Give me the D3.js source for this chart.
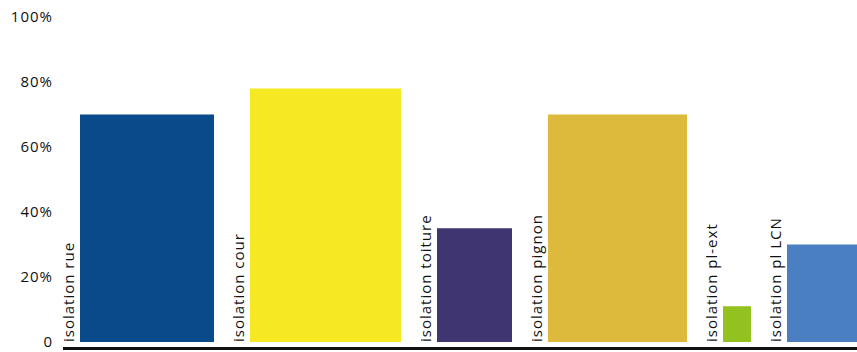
<!DOCTYPE html>
<html>
<head>
<meta charset="utf-8">
<script src="https://cdn.jsdelivr.net/npm/d3@7/dist/d3.min.js"></script>
<style>
  html, body { margin: 0; padding: 0; background: #fff; }
  svg { display: block; }
  text { font-family: "Open Sans", "Lato", sans-serif; fill: #111; }
</style>
</head>
<body>
<svg id="chart" width="857" height="352"></svg>
<script>
// Share of each insulation measure (%), with relative bar widths
const categories = ["isolation rue", "isolation cour", "isolation toiture",
                    "isolation pignon", "isolation pl-ext", "isolation pl LCN"];
const values  = [70, 78, 35, 70, 11, 30];
const weights = [134, 151, 75, 139, 28, 71];
const colors  = ["#094a8b", "#f6e823", "#3e3571", "#ddba3b", "#92c120", "#4a7fc1"];
const yTicks  = [0, 20, 40, 60, 80, 100];

const W = 857, H = 352;
const svg = d3.select("#chart");

// vertical scale
const y = d3.scaleLinear().domain([0, 100]).range([342, 17]);

// variable-width horizontal layout: bars laid side by side with a fixed gap
const gap = 36;
const starts = [];
let acc = 0;
weights.forEach((w, i) => { starts.push(acc); acc += w + gap; });
const total = acc - gap;
const x = d3.scaleLinear().domain([0, total]).range([80, 80 + total]);

const data = categories.map((c, i) => ({
  name: c, value: values[i], x0: starts[i], x1: starts[i] + weights[i], color: colors[i]
}));

// y axis labels (no ticks, no domain line)
const yAxis = d3.axisLeft(y)
  .tickValues(yTicks)
  .tickSize(0)
  .tickPadding(0)
  .tickFormat(d => d === 0 ? "0" : d + "%");
const gy = svg.append("g").attr("transform", "translate(53,0)").call(yAxis);
gy.select(".domain").remove();
gy.selectAll("text")
  .attr("font-family", "Open Sans, Lato, sans-serif")
  .attr("font-size", 15)
  .attr("letter-spacing", 1)
  .attr("fill", "#111");

// bars
svg.append("g").selectAll("rect")
  .data(data)
  .join("rect")
  .attr("x", d => x(d.x0))
  .attr("width", d => x(d.x1) - x(d.x0))
  .attr("y", d => y(d.value))
  .attr("height", d => y(0) - y(d.value))
  .attr("fill", d => d.color);

// rotated category labels set just left of each bar
svg.append("g").selectAll("text")
  .data(data)
  .join("text")
  .attr("transform", d => `translate(${x(d.x0) - 6},${y(0)}) rotate(-90)`)
  .attr("font-size", 15)
  .attr("letter-spacing", 1)
  .text(d => d.name);

// baseline
svg.append("line")
  .attr("x1", 63).attr("x2", W)
  .attr("y1", 348.5).attr("y2", 348.5)
  .attr("stroke", "#111")
  .attr("stroke-width", 3);
</script>
</body>
</html>
